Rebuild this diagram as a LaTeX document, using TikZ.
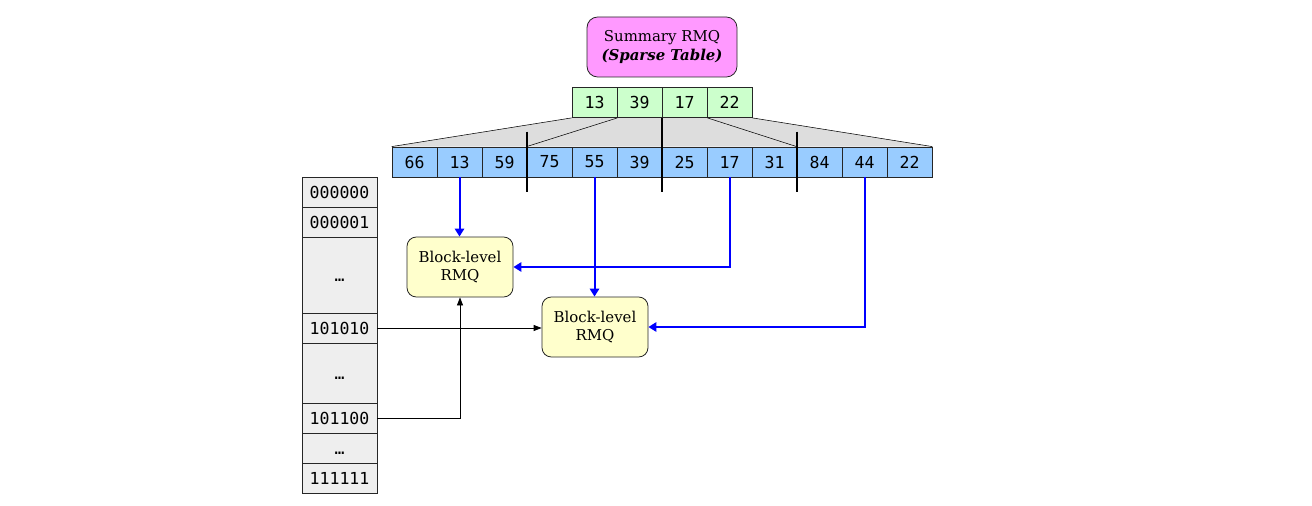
\documentclass[tikz,border=0pt]{standalone}
\usepackage{fontspec}
\setmainfont{DejaVu Serif}
\setmonofont{DejaVu Sans Mono}
\usetikzlibrary{arrows.meta,backgrounds}
\definecolor{summag}{RGB}{255,153,255}
\definecolor{sumgreen}{RGB}{204,255,204}
\definecolor{arrblue}{RGB}{153,204,255}
\definecolor{rmqyellow}{RGB}{255,255,204}
\definecolor{trapgray}{RGB}{221,221,221}
\definecolor{colgray}{RGB}{238,238,238}
\begin{document}
\begin{tikzpicture}[x=0.75pt,y=-0.75pt,
  cellbox/.style={draw=black!85, line width=0.6pt, minimum width=33.75pt, minimum height=22.5pt, inner sep=0pt,
    font=\ttfamily\fontsize{12.4}{14}\selectfont},
  colbox/.style={draw=black!85, line width=0.6pt, fill=colgray, minimum width=56.25pt, inner sep=0pt,
    font=\ttfamily\fontsize{12.4}{14}\selectfont},
  rmqbox/.style={draw=black!85, line width=0.6pt, fill=rmqyellow, rounded corners=7pt, minimum width=79.5pt,
    minimum height=45pt, align=center, inner sep=0pt, font=\fontsize{11.2}{13.5}\selectfont},
  sepline/.style={line width=1.5pt},
  barrow/.style={draw=blue, line width=1.5pt, -{Triangle[length=6pt,width=7pt]}},
  karrow/.style={draw=black, line width=0.6pt, -{Triangle[length=6pt,width=4.5pt]}}
]
\useasboundingbox (0,0) rectangle (1312,506);

% summary box
\node[draw=black!85, line width=0.6pt, fill=summag, rounded corners=8pt, minimum width=112.5pt, minimum height=45pt,
  align=center, inner sep=0pt, font=\fontsize{11.2}{14.5}\selectfont] (sum) at (662,47)
  {Summary RMQ\\\textbf{\textit{(Sparse Table)}}};

% summary cells
\foreach \v [count=\i] in {13,39,17,22}
  \node[cellbox, fill=sumgreen] (g\i) at ({549.5+45*\i},102.5) {\v};

% block cells
\foreach \v [count=\i] in {66,13,59,75,55,39,25,17,31,84,44,22}
  \node[cellbox, fill=arrblue] (b\i) at ({369.5+45*\i},162) {\v};

% trapezoid
\begin{scope}[on background layer]
  \fill[trapgray] (g1.south west) -- (b1.north west) -- (b12.north east) -- (g4.south east) -- cycle;
\end{scope}
\draw (g1.south west) -- (b1.north west);
\draw (g1.south east) -- (b4.north west);
\draw (g2.south east) -- (b7.north west);
\draw (g3.south east) -- (b10.north west);
\draw (g4.south east) -- (b12.north east);

% separators
\draw[sepline] ([yshift=11.25pt]b3.north east) -- ([yshift=-11.25pt]b3.south east);
\draw[sepline] (g2.south east) -- ([yshift=-11.25pt]b6.south east);
\draw[sepline] ([yshift=11.25pt]b9.north east) -- ([yshift=-11.25pt]b9.south east);

% left column
\node[colbox, minimum height=22.5pt] (c1) at (339.5,192) {000000};
\node[colbox, minimum height=22.5pt] (c2) at (339.5,222) {000001};
\node[colbox, minimum height=57pt]   (c3) at (339.5,275) {\vphantom{0}…};
\node[colbox, minimum height=22.5pt] (c4) at (339.5,328) {101010};
\node[colbox, minimum height=45pt]   (c5) at (339.5,373) {\vphantom{0}…};
\node[colbox, minimum height=22.5pt] (c6) at (339.5,418) {101100};
\node[colbox, minimum height=22.5pt] (c7) at (339.5,448) {\vphantom{0}…};
\node[colbox, minimum height=22.5pt] (c8) at (339.5,478) {111111};

% block-level RMQs
\node[rmqbox] (r1) at (460,267) {Block-level\\RMQ};
\node[rmqbox] (r2) at (595,327) {Block-level\\RMQ};

% arrows
\draw[barrow] (b2.south) -- (b2.south |- r1.north);
\draw[barrow] (b5.south) -- (b5.south |- r2.north);
\draw[barrow] (b8.south) |- (r1.east);
\draw[barrow] (b11.south) |- (r2.east);
\draw[karrow] (c4.east) -- (c4.east -| r2.west);
\draw[karrow] (c6.east) -| (r1.south);
\end{tikzpicture}
\end{document}
